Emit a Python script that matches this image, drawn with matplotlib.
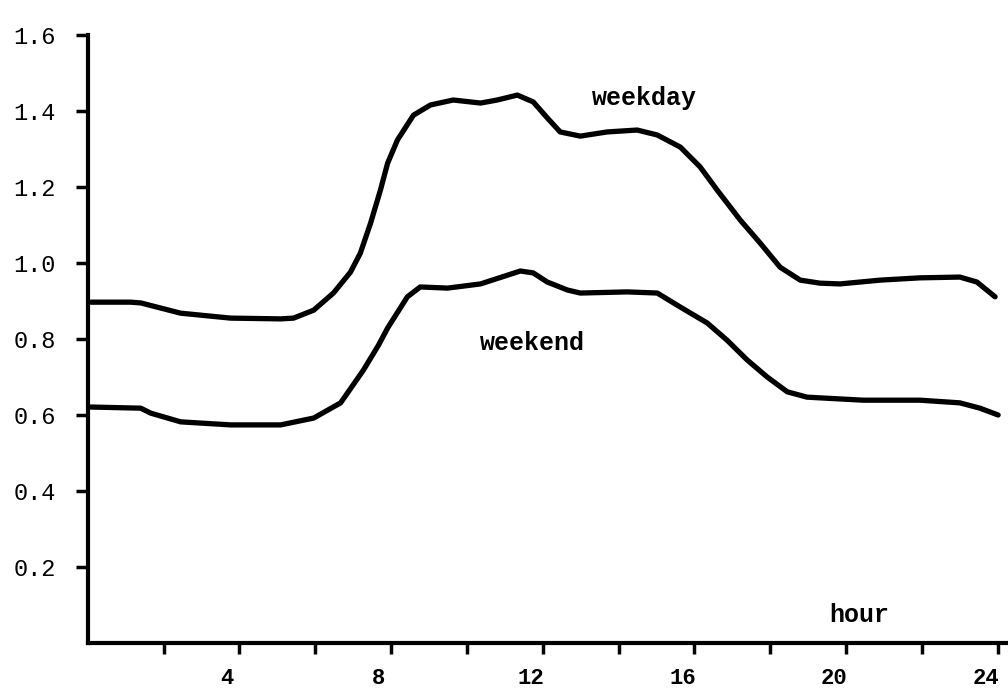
import numpy as np
import matplotlib
matplotlib.use("Agg")
import matplotlib.pyplot as plt
from matplotlib.transforms import ScaledTranslation

# values (hour, relative load)
weekday_hour = [0.08, 1.13, 1.40, 2.45, 3.77, 5.09, 5.43, 5.96, 6.48, 6.93, 7.19, 7.46,
                7.72, 7.91, 8.17, 8.59, 9.04, 9.64, 10.36, 10.80, 11.33, 11.75, 12.12,
                12.46, 12.99, 13.70, 14.49, 15.02, 15.63, 16.15, 16.60, 17.21, 17.73,
                18.26, 18.79, 19.31, 19.84, 20.90, 21.95, 23.00, 23.45, 23.93]
weekday_load = [0.897, 0.897, 0.895, 0.868, 0.855, 0.853, 0.855, 0.876, 0.921, 0.976, 1.026,
                1.105, 1.192, 1.263, 1.324, 1.389, 1.416, 1.429, 1.421, 1.429, 1.442, 1.424,
                1.382, 1.345, 1.334, 1.345, 1.350, 1.337, 1.305, 1.253, 1.192, 1.113, 1.053,
                0.989, 0.955, 0.947, 0.945, 0.955, 0.961, 0.963, 0.950, 0.911]

weekend_hour = [0.08, 1.40, 1.66, 2.45, 3.77, 5.09, 5.96, 6.67, 7.27, 7.67, 7.91, 8.43,
                8.77, 9.49, 10.36, 11.07, 11.41, 11.75, 12.12, 12.65, 12.99, 14.23, 15.02,
                15.63, 16.34, 16.86, 17.39, 17.92, 18.45, 18.97, 20.45, 21.95, 23.00,
                23.53, 24.01]
weekend_load = [0.621, 0.618, 0.605, 0.582, 0.574, 0.574, 0.592, 0.632, 0.718, 0.784, 0.829,
                0.911, 0.937, 0.934, 0.945, 0.968, 0.979, 0.974, 0.950, 0.929, 0.921, 0.924,
                0.921, 0.884, 0.842, 0.797, 0.745, 0.700, 0.661, 0.647, 0.639, 0.639, 0.632,
                0.618, 0.600]

x_labels = [4, 8, 12, 16, 20, 24]
y_ticks = [0.2, 0.4, 0.6, 0.8, 1.0, 1.2, 1.4, 1.6]

font = "Liberation Mono"

fig = plt.figure(figsize=(10.08, 6.94), dpi=100)
ax = fig.add_axes([0.087, 0.0735, 0.913, 0.876])

ax.plot(weekday_hour, weekday_load, color="black", lw=3.8, solid_capstyle="round",
        solid_joinstyle="round")
ax.plot(weekend_hour, weekend_load, color="black", lw=3.8, solid_capstyle="round",
        solid_joinstyle="round")

ax.set_xlim(0, 24.27)
ax.set_ylim(0, 1.6)

for side in ["top", "right"]:
    ax.spines[side].set_visible(False)
for side in ["left", "bottom"]:
    ax.spines[side].set_linewidth(3)

ax.set_xticks(x_labels)
ax.set_xticks(np.arange(2, 25, 4), minor=True)
ax.set_xticklabels([str(v) for v in x_labels], fontfamily=font, fontweight="bold", fontsize=16)
ax.tick_params(axis="x", which="both", direction="out", length=8, width=2.5, pad=10)

ax.set_yticks(y_ticks)
ax.set_yticklabels(["%.1f" % v for v in y_ticks], fontfamily=font, fontsize=17)
ax.tick_params(axis="y", direction="out", length=9, width=2.5, pad=14)

# the typed labels sit a little left of their ticks
shift = ScaledTranslation(-12 / 100, 0, fig.dpi_scale_trans)
for lab in ax.get_xticklabels():
    lab.set_transform(lab.get_transform() + shift)

ax.text(14.68, 1.434, "weekday", fontfamily=font, fontweight="bold", fontsize=18,
        ha="center", va="center")
ax.text(11.73, 0.789, "weekend", fontfamily=font, fontweight="bold", fontsize=18,
        ha="center", va="center")
ax.text(20.34, 0.074, "hour", fontfamily=font, fontweight="bold", fontsize=18,
        ha="center", va="center")

fig.savefig("out.png", dpi=100)
